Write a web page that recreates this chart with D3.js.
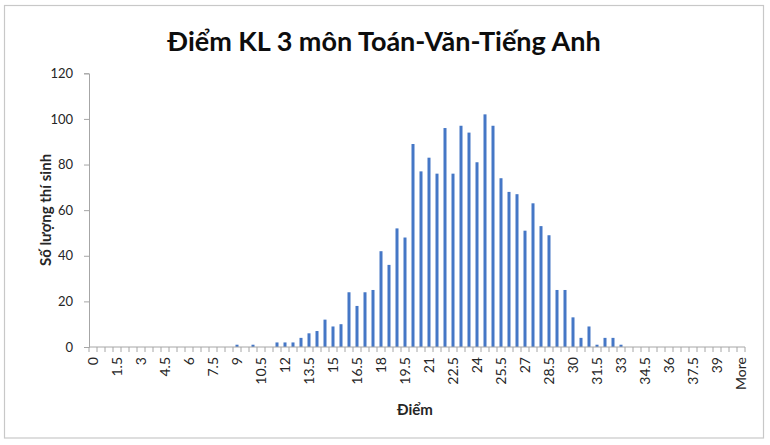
<!DOCTYPE html>
<html>
<head>
<meta charset="utf-8">
<script src="https://cdn.jsdelivr.net/npm/d3@7"></script>
<style>
  html, body { margin: 0; padding: 0; background: #fff; }
  svg { display: block; font-family: Lato, "Noto Sans", sans-serif; }
</style>
</head>
<body>
<svg id="chart" width="770" height="445"></svg>
<script>
const chartTitle = "Điểm KL 3 môn Toán-Văn-Tiếng Anh";
const xTitle = "Điểm";
const yTitle = "Số lượng thí sinh";

const categories = ["0","0.5","1","1.5","2","2.5","3","3.5","4","4.5","5","5.5","6","6.5","7","7.5","8","8.5",
  "9","9.5","10","10.5","11","11.5","12","12.5","13","13.5","14","14.5","15","15.5","16","16.5","17","17.5",
  "18","18.5","19","19.5","20","20.5","21","21.5","22","22.5","23","23.5","24","24.5","25","25.5","26","26.5",
  "27","27.5","28","28.5","29","29.5","30","30.5","31","31.5","32","32.5","33","33.5","34","34.5","35","35.5",
  "36","36.5","37","37.5","38","38.5","39","39.5","40","More"];

const counts = [0,0,0,0,0,0,0,0,0,0,0,0,0,0,0,0,0,0,
  1,0,1,0,0,2,2,2,4,6,7,12,9,10,24,18,24,25,
  42,36,52,48,89,77,83,76,96,76,97,94,81,102,97,74,68,67,
  51,63,53,49,25,25,13,4,9,1,4,4,1,0,0,0,0,0,
  0,0,0,0,0,0,0,0,0,0];

const xTickLabels = ["0","1.5","3","4.5","6","7.5","9","10.5","12","13.5","15","16.5","18","19.5","21",
  "22.5","24","25.5","27","28.5","30","31.5","33","34.5","36","37.5","39","More"];

const yTicks = [0,20,40,60,80,100,120];

const svg = d3.select("#chart");
const plotLeft = 89, plotRight = 745, plotTop = 73.3, plotBottom = 347;

// outer frame
svg.append("rect").attr("x", 4.5).attr("y", 5.5).attr("width", 759).attr("height", 432.5)
  .attr("fill", "#fff").attr("stroke", "#c8c8c8").attr("stroke-width", 1.2);

const x = d3.scaleBand().domain(categories).range([plotLeft, plotRight])
  .paddingInner(0.625).paddingOuter(0.3125);
const y = d3.scaleLinear().domain([0, 120]).range([plotBottom, plotTop]);

// bars
svg.append("g").selectAll("rect").data(categories.map((c, i) => ({c, v: counts[i]})))
  .join("rect")
  .attr("x", d => x(d.c))
  .attr("width", x.bandwidth())
  .attr("y", d => y(d.v))
  .attr("height", d => y(0) - y(d.v))
  .attr("fill", "#4577c6");

// y axis
const yAxis = svg.append("g").attr("transform", `translate(${plotLeft},0)`)
  .call(d3.axisLeft(y).tickValues(yTicks).tickSize(5).tickPadding(11));
yAxis.select(".domain").attr("stroke", "#a6a6a6");
yAxis.selectAll(".tick line").attr("stroke", "#a6a6a6");
yAxis.selectAll(".tick text").attr("font-size", 13).attr("fill", "#262626")
  .attr("font-family", "Lato, sans-serif");

// x axis
const xAxis = svg.append("g").attr("transform", `translate(0,${plotBottom})`)
  .call(d3.axisBottom(x).tickValues(xTickLabels).tickSize(0).tickPadding(0));
xAxis.select(".domain").remove();
xAxis.selectAll(".tick text")
  .attr("font-size", 14).attr("fill", "#262626").attr("font-family", "Lato, sans-serif")
  .attr("transform", "rotate(-90)")
  .attr("text-anchor", "end")
  .attr("x", -10).attr("y", 0).attr("dy", "0.35em");

svg.append("line").attr("x1", plotLeft).attr("x2", plotRight).attr("y1", plotBottom).attr("y2", plotBottom)
  .attr("stroke", "#a6a6a6");
const gap = (x.step() - x.bandwidth()) / 2;
const bounds = categories.map(c => x(c) - gap).concat([x(categories[categories.length - 1]) + x.bandwidth() + gap]);
svg.append("g").selectAll("line").data(bounds).join("line")
  .attr("x1", d => d).attr("x2", d => d)
  .attr("y1", plotBottom).attr("y2", plotBottom + 5)
  .attr("stroke", "#a6a6a6");

// titles
svg.append("text").attr("x", 384).attr("y", 51).attr("text-anchor", "middle")
  .attr("font-size", 27).attr("font-weight", "bold").attr("fill", "#0d0d0d").text(chartTitle);

svg.append("text").attr("x", 415).attr("y", 415).attr("text-anchor", "middle")
  .attr("font-size", 15).attr("font-weight", "bold").attr("fill", "#262626").text(xTitle);

svg.append("text").attr("transform", "translate(51,210) rotate(-90)").attr("text-anchor", "middle")
  .attr("font-size", 15).attr("font-weight", "bold").attr("fill", "#262626").text(yTitle);
</script>
</body>
</html>
